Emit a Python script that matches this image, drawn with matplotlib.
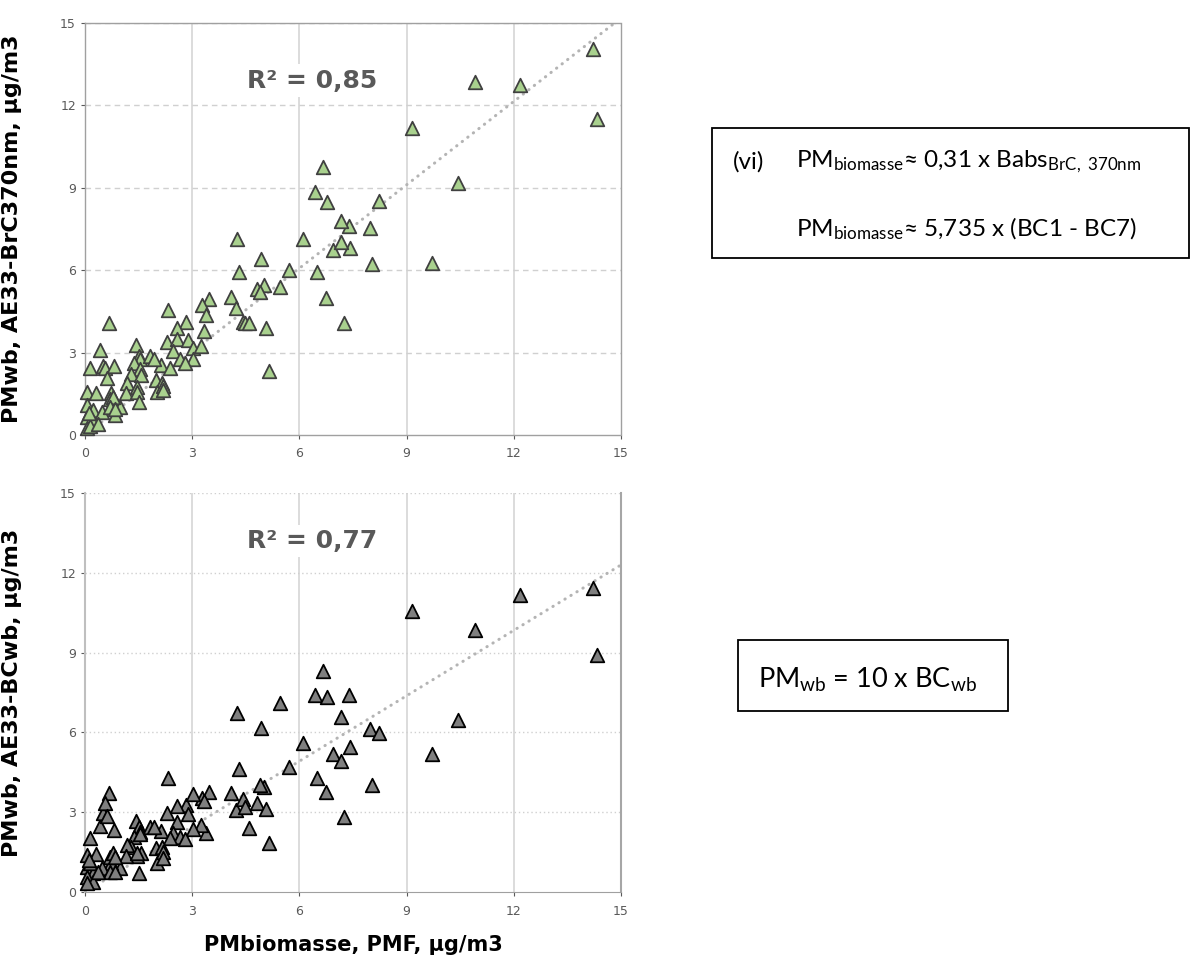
import numpy as np
import matplotlib
matplotlib.use("Agg")
import matplotlib.pyplot as plt
from matplotlib.patches import Rectangle

plt.rcParams['font.family'] = ['DejaVu Sans']
plt.rcParams['mathtext.fontset'] = 'custom'
plt.rcParams['mathtext.rm'] = 'Lato'
plt.rcParams['mathtext.it'] = 'Lato'

# PMF biomass (x), AE33 BrC 370nm (top panel), AE33 BCwb (bottom panel)
pm_biomasse = [14.22, 14.33, 12.17, 10.92, 9.15, 10.44, 9.71, 6.66, 6.44, 6.77, 7.39, 7.16, 7.98, 8.23,
               6.10, 7.42, 6.94, 7.16, 6.49, 6.75, 8.03, 7.25,
               4.25, 4.93, 5.71, 4.31, 4.81, 5.01, 4.90, 5.46, 4.09, 4.23, 4.42, 4.47, 4.59, 5.07, 5.15,
               3.47, 3.27, 3.39, 2.32, 2.83, 2.57, 3.33, 2.29, 2.57, 2.88, 2.46, 3.02, 3.25, 2.66, 3.02,
               2.80, 2.13, 2.38, 1.99, 2.15, 2.01, 2.18, 2.18,
               1.43, 1.51, 1.54, 1.82, 1.93, 1.37, 1.54, 1.29, 1.57, 1.18, 1.46, 1.15, 1.46, 1.51, 0.98,
               0.67, 0.42, 0.14, 0.50, 0.56, 0.81, 0.62, 0.05, 0.31, 0.73, 0.70, 0.78, 0.05, 0.22, 0.48,
               0.70, 0.84, 0.05, 0.22, 0.05, 0.14, 0.36, 0.84, 0.10]
pm_brc370 = [14.07, 11.49, 12.73, 12.84, 11.16, 9.16, 6.25, 9.75, 8.84, 8.47, 7.60, 7.78, 7.53, 8.51,
             7.13, 6.80, 6.73, 7.02, 5.93, 4.98, 6.22, 4.07,
             7.13, 6.40, 6.00, 5.93, 5.31, 5.45, 5.20, 5.38, 5.02, 4.62, 4.11, 4.09, 4.07, 3.89, 2.33,
             4.95, 4.73, 4.36, 4.55, 4.11, 3.89, 3.78, 3.38, 3.49, 3.45, 3.05, 3.16, 3.24, 2.76, 2.76,
             2.62, 2.55, 2.44, 2.00, 1.89, 1.56, 1.80, 1.65,
             3.27, 2.87, 2.76, 2.87, 2.76, 2.62, 2.40, 2.22, 2.18, 1.89, 1.75, 1.53, 1.56, 1.20, 1.02,
             4.07, 3.09, 2.44, 2.51, 2.44, 2.51, 2.07, 1.56, 1.53, 1.53, 1.31, 1.38, 1.09, 0.91, 0.84,
             1.02, 0.73, 0.65, 0.47, 0.25, 0.33, 0.40, 0.95, 0.80]
pm_bcwb = [11.43, 8.91, 11.17, 9.85, 10.56, 6.47, 5.19, 8.31, 7.41, 7.33, 7.41, 6.58, 6.13, 5.98,
           5.60, 5.45, 5.19, 4.92, 4.29, 3.76, 4.02, 2.82,
           6.73, 6.17, 4.70, 4.62, 3.35, 3.95, 4.02, 7.10, 3.72, 3.08, 3.50, 3.20, 2.41, 3.12, 1.84,
           3.76, 3.53, 2.22, 4.29, 3.27, 3.23, 3.42, 2.97, 2.63, 2.93, 2.22, 3.68, 2.52, 2.07, 2.37,
           1.99, 2.29, 2.03, 1.65, 1.69, 1.09, 1.50, 1.28,
           2.67, 2.44, 2.26, 2.44, 2.44, 2.07, 2.18, 1.69, 1.47, 1.77, 1.35, 1.35, 1.47, 0.71, 0.90,
           3.72, 2.48, 2.03, 2.97, 3.35, 2.33, 2.86, 1.39, 1.43, 1.09, 1.32, 1.47, 0.94, 0.71, 0.90,
           0.75, 1.32, 0.56, 0.38, 0.34, 1.09, 0.75, 0.75, 1.20]
r2_labels = ['R² = 0,85', 'R² = 0,77']
ylabels = ['PMwb, AE33-BrC370nm, µg/m3', 'PMwb, AE33-BCwb, µg/m3']
ticks = [0, 3, 6, 9, 12, 15]

fig = plt.figure(figsize=(11.99, 9.63), dpi=100)
ax1 = fig.add_axes([0.0709, 0.5483, 0.4470, 0.4278])
ax2 = fig.add_axes([0.0709, 0.0737, 0.4470, 0.4143])

grey_txt = '#595959'
x = np.array(pm_biomasse)

for ax, yv, face, edge, r2, yl, hstyle, r2y in [
        (ax1, pm_brc370, '#a9d18e', '#404040', r2_labels[0], ylabels[0], (0, (4, 3)), 12.9),
        (ax2, pm_bcwb, '#7f7f7f', '#000000', r2_labels[1], ylabels[1], (0, (1, 2)), 13.2)]:
    y = np.array(yv)
    ax.set_xlim(0, 15)
    ax.set_ylim(0, 15)
    ax.set_xticks(ticks)
    ax.set_yticks(ticks)
    ax.tick_params(labelsize=9, colors=grey_txt, length=3, width=0.8)
    ax.tick_params(axis='x', pad=6)
    for t in ax.get_xticklines() + ax.get_yticklines():
        t.set_color('#bfbfbf')
    # grid
    for v in ticks[1:-1]:
        ax.axvline(v, color='#d9d9d9', lw=1.3, zorder=0)
    for v in ticks[1:]:
        ax.axhline(v, color='#d0d0d0', lw=1.0, ls=hstyle, zorder=0)
    # trendline (least squares through origin)
    k = np.sum(x * y) / np.sum(x * x)
    xx = np.array([0, 15])
    ax.plot(xx, k * xx, color='#b4b4b4', lw=2.2, ls=(0, (0.1, 2.2)),
            dash_capstyle='round', zorder=1)
    ax.scatter(x, y, marker='^', s=95, facecolor=face, edgecolor=edge, linewidths=1.3,
               zorder=3, clip_on=False)
    ax.text(6.35, r2y, r2, ha='center', va='center', fontsize=18, fontweight='bold',
            color=grey_txt, zorder=2,
            bbox=dict(facecolor='white', edgecolor='none', pad=3))
    ax.set_ylabel(yl, fontsize=16, fontweight='bold', color='black')
    ax.yaxis.set_label_coords(-0.118, 0.5)

# spines
for s in ['top', 'right', 'bottom', 'left']:
    ax1.spines[s].set_linestyle((0, (1, 1)))
    ax1.spines[s].set_color('#a0a0a0')
    ax1.spines[s].set_linewidth(1.0)
ax2.spines['top'].set_visible(False)
ax2.spines['left'].set_color('#bfbfbf')
ax2.spines['left'].set_linewidth(1.5)
ax2.spines['right'].set_color('#a6a6a6')
ax2.spines['right'].set_linewidth(1.5)
ax2.spines['bottom'].set_linestyle((0, (1, 1)))
ax2.spines['bottom'].set_color('#a0a0a0')

fig.text(353 / 1199, 1 - 945 / 963, 'PMbiomasse, PMF, µg/m3', ha='center', va='center',
         fontsize=15, fontweight='bold')

# equation boxes
fig.add_artist(Rectangle((712 / 1199, 1 - 258 / 963), 477 / 1199, 130 / 963,
                         transform=fig.transFigure, fill=False, edgecolor='black', lw=1.3))
fig.text(733 / 1199, 1 - 162 / 963, '(vi)', fontsize=17.5, family='Lato', va='center')
fig.text(796 / 1199, 1 - 162 / 963, r'PM$_{\mathrm{biomasse}}$≈ 0,31 x Babs$_{\mathrm{BrC,\ 370nm}}$',
         fontsize=17.5, family='Lato', va='center')
fig.text(796 / 1199, 1 - 229 / 963, r'PM$_{\mathrm{biomasse}}$≈ 5,735 x (BC1 - BC7)',
         fontsize=17.5, family='Lato', va='center')

fig.add_artist(Rectangle((738 / 1199, 1 - 711 / 963), 270 / 1199, 71 / 963,
                         transform=fig.transFigure, fill=False, edgecolor='black', lw=1.3))
fig.text(758 / 1199, 1 - 680 / 963, r'PM$_{\mathrm{wb}}$ = 10 x BC$_{\mathrm{wb}}$',
         fontsize=19.5, family='Lato', va='center')

fig.savefig('out.png', dpi=100)
